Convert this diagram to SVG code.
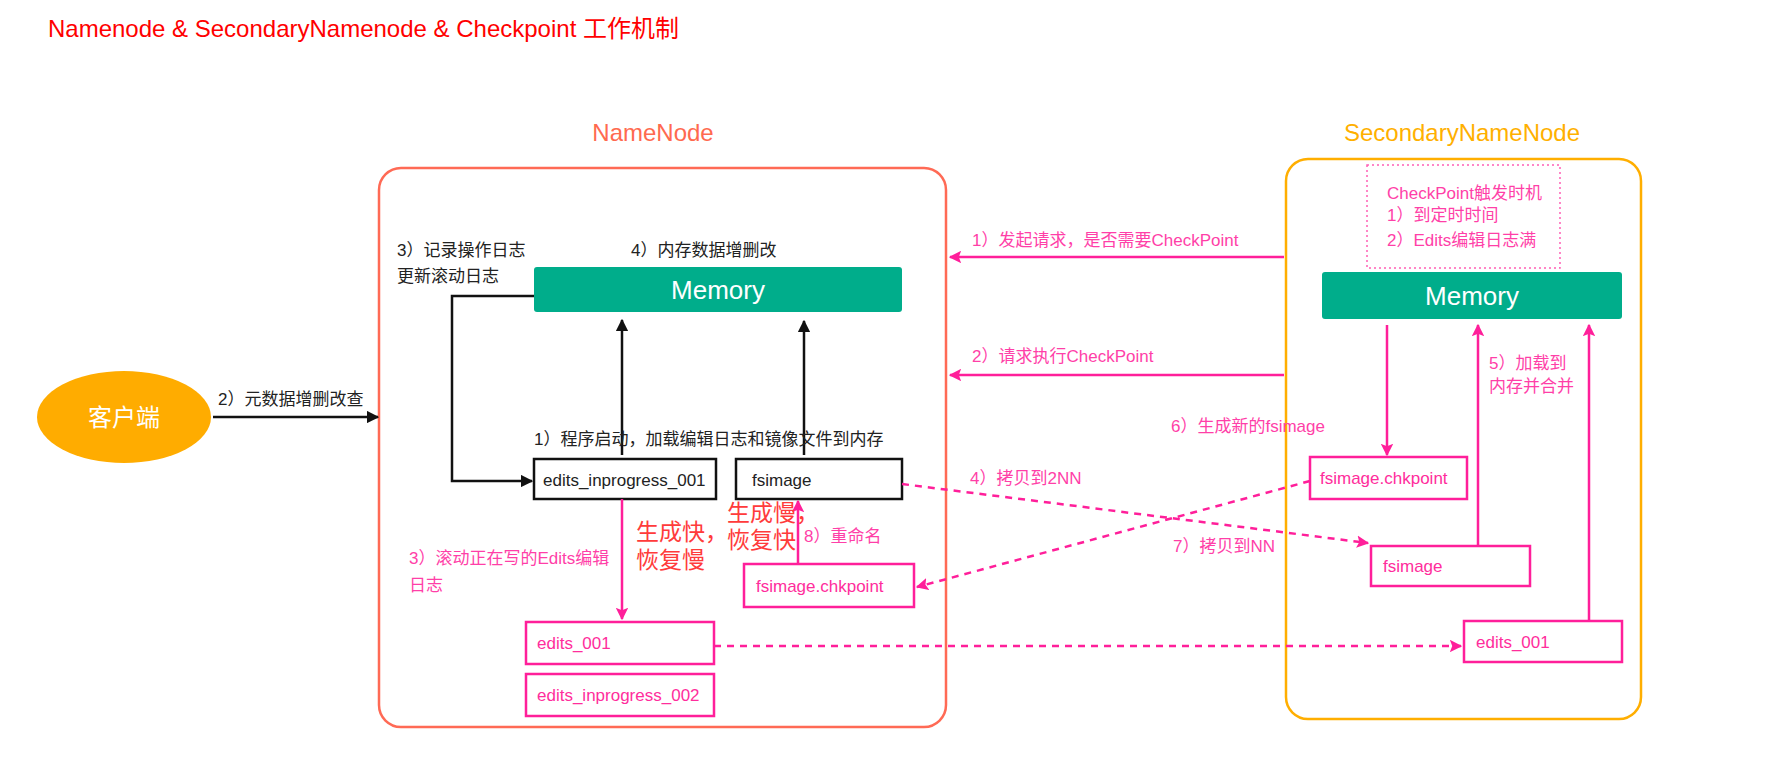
<svg xmlns="http://www.w3.org/2000/svg" width="1780" height="782" viewBox="0 0 1780 782">
<defs>
<style>
text{font-family:"Liberation Sans","Noto Sans CJK SC",sans-serif;}
.t{font-size:17px;fill:#222;}
.p{font-size:17px;fill:#ff3fa8;}
.pb{font-size:17px;fill:#ff2d9c;}
.red{font-size:23px;fill:#ff3b3b;}
.mem{fill:#00ad8b;}
.memt{font-size:26px;fill:#fff;text-anchor:middle;}
.bk{fill:#fff;stroke:#111;stroke-width:2.5;}
.pk{fill:#fff;stroke:#ff1f9a;stroke-width:2.5;}
.lb{fill:none;stroke:#111;stroke-width:2.5;}
.lp{fill:none;stroke:#ff1f9a;stroke-width:2.5;}
.ld{fill:none;stroke:#ff1f9a;stroke-width:2.5;stroke-dasharray:7 6;}
</style>
<marker id="ab" viewBox="0 0 10 10" refX="9" refY="5" markerWidth="5" markerHeight="5" orient="auto" markerUnits="strokeWidth"><path d="M0,0 L10,5 L0,10 z" fill="#111"/></marker>
<marker id="ap" viewBox="0 0 10 10" refX="9" refY="5" markerWidth="5" markerHeight="5" orient="auto" markerUnits="strokeWidth"><path d="M0,0 L10,5 L0,10 L2,5 z" fill="#ff1f9a"/></marker>
</defs>
<rect width="1780" height="782" fill="#fff"/>
<text x="48" y="37" style="font-size:24px;fill:#ff0000">Namenode &amp; SecondaryNamenode &amp; Checkpoint 工作机制</text>

<g id="namenode">
<text x="653" y="141" text-anchor="middle" style="font-size:24px;fill:#ff6a4f">NameNode</text>
<rect x="379" y="168" width="567" height="559" rx="22" fill="none" stroke="#ff6a55" stroke-width="2.5"/>
</g>
<g id="secondarynamenode">
<text x="1462" y="141" text-anchor="middle" style="font-size:24px;fill:#ffb000">SecondaryNameNode</text>
<rect x="1286" y="159" width="355" height="560" rx="22" fill="none" stroke="#ffae00" stroke-width="2.5"/>
</g>
<g id="client">
<ellipse cx="124" cy="417" rx="87" ry="46" fill="#ffac00"/>
<text x="124" y="426" text-anchor="middle" style="font-size:24px;fill:#fff">客户端</text>
</g>
<g id="nn-memory">
<rect class="mem" x="534" y="267" width="368" height="45" rx="3"/>
<text class="memt" x="718" y="299">Memory</text>
</g>
<g id="nn-edits-inprogress-001">
<rect class="bk" x="534" y="459" width="182" height="40"/>
<text class="t" x="543" y="486">edits_inprogress_001</text>
</g>
<g id="nn-fsimage">
<rect class="bk" x="736" y="459" width="166" height="40"/>
<text class="t" x="752" y="486">fsimage</text>
</g>
<g id="nn-fsimage-chkpoint">
<rect class="pk" x="744" y="564" width="170" height="43"/>
<text class="pb" x="756" y="592">fsimage.chkpoint</text>
</g>
<g id="nn-edits-001">
<rect class="pk" x="526" y="622" width="188" height="42"/>
<text class="pb" x="537" y="649">edits_001</text>
</g>
<g id="nn-edits-inprogress-002">
<rect class="pk" x="526" y="674" width="188" height="42"/>
<text class="pb" x="537" y="701">edits_inprogress_002</text>
</g>
<g id="checkpoint-trigger">
<rect x="1367" y="165" width="193" height="103" fill="none" stroke="#ff5fb5" stroke-width="1.5" stroke-dasharray="2 3"/>
<text class="p" x="1387" y="199">CheckPoint触发时机</text>
<text class="p" x="1387" y="221">1）到定时时间</text>
<text class="p" x="1387" y="246">2）Edits编辑日志满</text>
</g>
<g id="snn-memory">
<rect class="mem" x="1322" y="272" width="300" height="47" rx="3"/>
<text class="memt" x="1472" y="305">Memory</text>
</g>
<g id="snn-fsimage-chkpoint">
<rect class="pk" x="1310" y="457" width="157" height="42"/>
<text class="pb" x="1320" y="484">fsimage.chkpoint</text>
</g>
<g id="snn-fsimage">
<rect class="pk" x="1371" y="546" width="159" height="40"/>
<text class="pb" x="1383" y="572">fsimage</text>
</g>
<g id="snn-edits-001">
<rect class="pk" x="1464" y="621" width="158" height="41"/>
<text class="pb" x="1476" y="648">edits_001</text>
</g>

<g id="connectors">
<line class="lb" x1="213" y1="417" x2="378" y2="417" marker-end="url(#ab)"/>
<polyline class="lb" points="534,296 452,296 452,481 532,481" marker-end="url(#ab)"/>
<line class="lb" x1="622" y1="455" x2="622" y2="320" marker-end="url(#ab)"/>
<line class="lb" x1="804" y1="455" x2="804" y2="321" marker-end="url(#ab)"/>
<line class="lp" x1="622" y1="499" x2="622" y2="619" marker-end="url(#ap)"/>
<line class="lp" x1="798" y1="564" x2="798" y2="501" marker-end="url(#ap)"/>
<line class="lp" x1="1284" y1="257" x2="950" y2="257" marker-end="url(#ap)"/>
<line class="lp" x1="1284" y1="375" x2="950" y2="375" marker-end="url(#ap)"/>
<line class="lp" x1="1387" y1="325" x2="1387" y2="455" marker-end="url(#ap)"/>
<line class="lp" x1="1478" y1="546" x2="1478" y2="325" marker-end="url(#ap)"/>
<line class="lp" x1="1589" y1="621" x2="1589" y2="325" marker-end="url(#ap)"/>
<line class="ld" x1="902" y1="484" x2="1368" y2="543" marker-end="url(#ap)"/>
<line class="ld" x1="1310" y1="481" x2="917" y2="587" marker-end="url(#ap)"/>
<line class="ld" x1="714" y1="646" x2="1461" y2="646" marker-end="url(#ap)"/>
</g>

<g id="labels">
<text class="t" x="218" y="405">2）元数据增删改查</text>
<text class="t" x="397" y="256">3）记录操作日志</text>
<text class="t" x="397" y="282">更新滚动日志</text>
<text class="t" x="631" y="256">4）内存数据增删改</text>
<text class="t" x="534" y="445">1）程序启动，加载编辑日志和镜像文件到内存</text>
<text class="red" x="636" y="540">生成快，</text>
<text class="red" x="636" y="568">恢复慢</text>
<text class="red" x="727" y="521">生成慢，</text>
<text class="red" x="727" y="548">恢复快</text>
<text class="p" x="804" y="542">8）重命名</text>
<text class="p" x="409" y="564">3）滚动正在写的Edits编辑</text>
<text class="p" x="409" y="591">日志</text>
<text class="p" x="972" y="246">1）发起请求，是否需要CheckPoint</text>
<text class="p" x="972" y="362">2）请求执行CheckPoint</text>
<text class="p" x="970" y="484">4）拷贝到2NN</text>
<text class="p" x="1173" y="552">7）拷贝到NN</text>
<text class="p" x="1171" y="432">6）生成新的fsimage</text>
<text class="p" x="1489" y="369">5）加载到</text>
<text class="p" x="1489" y="392">内存并合并</text>
</g>
</svg>
